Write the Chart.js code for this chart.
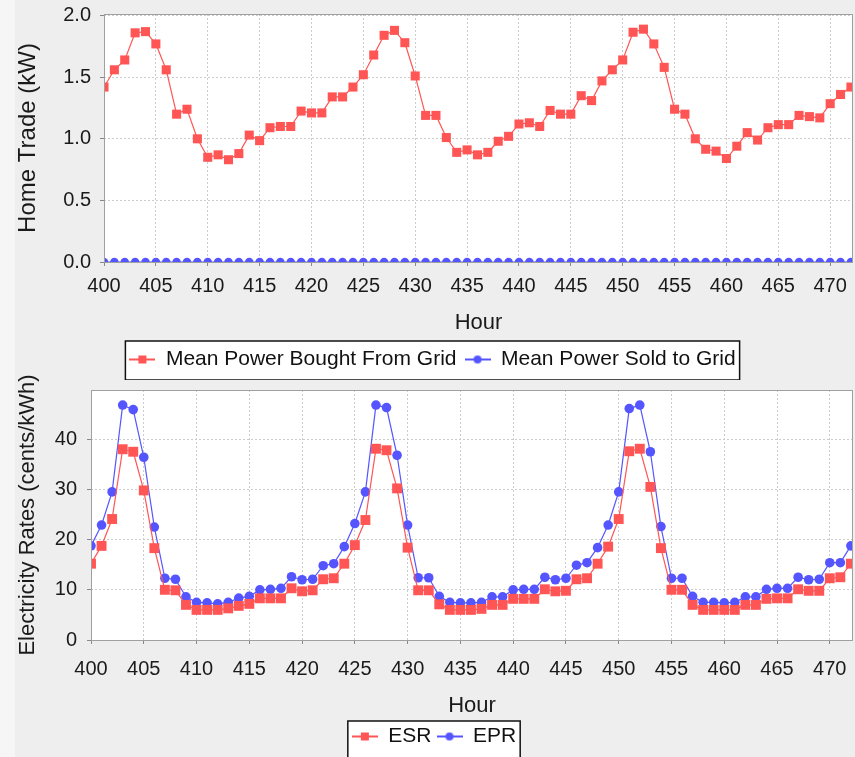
<!DOCTYPE html>
<html>
<head>
<meta charset="utf-8">
<script src="https://cdn.jsdelivr.net/npm/chart.js@4.4.1/dist/chart.umd.min.js"></script>
<style>
html, body { margin: 0; padding: 0; overflow: hidden; background: #eeeeee; }
body { width: 855px; height: 757px; position: relative; }
#edge { position: absolute; left: 0; top: 0; width: 15px; height: 757px; background: #f6f6f6; }
#topChart { position: absolute; left: 0; top: 0; }
#bottomChart { position: absolute; left: 0; top: 370px; }
</style>
</head>
<body>
<div id="edge"></div>
<canvas id="topChart" width="855" height="380"></canvas>
<canvas id="bottomChart" width="855" height="387"></canvas>
<script>
var hours = [400,401,402,403,404,405,406,407,408,409,
             410,411,412,413,414,415,416,417,418,419,
             420,421,422,423,424,425,426,427,428,429,
             430,431,432,433,434,435,436,437,438,439,
             440,441,442,443,444,445,446,447,448,449,
             450,451,452,453,454,455,456,457,458,459,
             460,461,462,463,464,465,466,467,468,469,
             470,471,472];

// top panel (kW)
var boughtFromGrid = [1.42,1.56,1.64,1.86,1.87,1.77,1.56,1.20,1.24,1.00,
                      0.85,0.87,0.83,0.88,1.03,0.985,1.09,1.10,1.10,1.225,
                      1.21,1.21,1.34,1.34,1.42,1.52,1.68,1.84,1.88,1.78,
                      1.51,1.19,1.19,1.01,0.89,0.91,0.87,0.89,0.98,1.02,
                      1.12,1.13,1.10,1.23,1.20,1.20,1.35,1.31,1.47,1.56,
                      1.64,1.865,1.89,1.77,1.58,1.24,1.20,1.00,0.915,0.90,
                      0.84,0.94,1.05,0.99,1.09,1.115,1.115,1.19,1.18,1.17,
                      1.285,1.36,1.42];
var soldToGrid = [0,0,0,0,0,0,0,0,0,0, 0,0,0,0,0,0,0,0,0,0,
                  0,0,0,0,0,0,0,0,0,0, 0,0,0,0,0,0,0,0,0,0,
                  0,0,0,0,0,0,0,0,0,0, 0,0,0,0,0,0,0,0,0,0,
                  0,0,0,0,0,0,0,0,0,0, 0,0,0];

// bottom panel (cents/kWh)
var esr = [15.2,18.75,24.1,38.0,37.5,29.8,18.3,10.0,9.9,7.0,
           6.0,6.0,6.0,6.3,6.8,7.2,8.3,8.3,8.3,10.3,
           9.7,9.9,12.1,12.3,15.2,18.9,23.9,38.1,37.8,30.2,
           18.4,9.9,9.9,7.1,6.0,6.0,6.0,6.2,7.0,7.0,
           8.2,8.2,8.2,10.1,9.7,9.8,12.1,12.3,15.2,18.6,
           24.1,37.6,38.1,30.5,18.3,10.0,10.0,7.0,6.0,6.0,
           6.0,6.0,7.0,7.0,8.2,8.3,8.3,10.1,9.8,9.8,
           12.3,12.5,15.2];
var epr = [18.75,22.9,29.5,46.8,45.9,36.4,22.5,12.3,12.1,8.6,
           7.5,7.4,7.2,7.5,8.35,8.7,10.0,10.1,10.3,12.6,
           12.0,12.1,14.8,15.2,18.6,23.2,29.5,46.8,46.3,36.8,
           22.9,12.4,12.4,8.7,7.5,7.4,7.4,7.5,8.6,8.6,
           10.0,10.1,10.1,12.5,12.0,12.3,14.9,15.4,18.4,22.9,
           29.5,46.1,46.8,37.5,22.6,12.3,12.3,8.7,7.5,7.5,
           7.4,7.5,8.6,8.6,10.1,10.3,10.3,12.5,12.0,12.1,
           15.4,15.4,18.75];

var RED = '#ff5555';
var BLUE = '#5555ff';
var FONT = 'Liberation Sans, Arial, sans-serif';

Chart.defaults.font.family = FONT;
Chart.defaults.color = '#1a1a1a';

function pts(ys) {
    var out = [];
    for (var i = 0; i < hours.length; i++) out.push({x: hours[i], y: ys[i]});
    return out;
}

// little "line + marker" icon for the legend
function legendIcon(color, shape) {
    var c = document.createElement('canvas');
    c.width = 26; c.height = 12;
    var g = c.getContext('2d');
    g.strokeStyle = color; g.lineWidth = 2;
    g.beginPath(); g.moveTo(0, 6); g.lineTo(26, 6); g.stroke();
    g.fillStyle = color;
    if (shape == 'rect') {
        g.fillRect(9, 2, 8, 8);
    } else {
        g.beginPath(); g.arc(13, 6, 4, 0, Math.PI * 2); g.fill();
    }
    return c;
}

var panelPlugin = {
    id: 'panel',
    beforeDraw: function (chart) {
        var ctx = chart.ctx, a = chart.chartArea;
        ctx.save();
        ctx.fillStyle = '#ffffff';
        ctx.fillRect(a.left, a.top, a.right - a.left, a.bottom - a.top);
        // legend frame
        var boxes = chart.legend.legendHitBoxes;
        if (boxes && boxes.length) {
            var l = boxes[0].left, r = boxes[0].left + boxes[0].width;
            for (var i = 1; i < boxes.length; i++) {
                l = Math.min(l, boxes[i].left);
                r = Math.max(r, boxes[i].left + boxes[i].width);
            }
            var t = chart.legend.top;
            ctx.fillStyle = '#ffffff';
            ctx.fillRect(l - 4, t, r - l + 8, 39);
            ctx.strokeStyle = '#111111';
            ctx.lineWidth = 1.5;
            ctx.strokeRect(l - 4, t, r - l + 8, 39);
        }
        ctx.restore();
    },
    afterDatasetsDraw: function (chart) {
        var ctx = chart.ctx, a = chart.chartArea;
        ctx.save();
        ctx.strokeStyle = '#a0a0a0';
        ctx.lineWidth = 1;
        ctx.strokeRect(a.left + 0.5, a.top + 0.5, a.right - a.left - 1, a.bottom - a.top);
        ctx.restore();
    }
};

function legendOpts(icons, pad) {
    return {
        position: 'bottom',
        labels: {
            usePointStyle: true,
            pointStyleWidth: 26,
            padding: pad,
            font: {size: 21},
            color: '#111',
            generateLabels: function (chart) {
                var items = Chart.defaults.plugins.legend.labels.generateLabels(chart);
                items.forEach(function (it, i) { it.pointStyle = icons[i]; });
                return items;
            }
        }
    };
}

function xAxis(height, tickPad, titlePad) {
    return {
        type: 'linear',
        min: 400,
        max: 472.2,
        afterFit: function (s) { s.height = height; s.paddingLeft = 0; s.paddingRight = 0; },
        ticks: {stepSize: 5, includeBounds: false, autoSkip: false, maxRotation: 0,
                font: {size: 20}, padding: tickPad,
                callback: function (v) { return v; }},
        grid: {color: '#cccccc', tickColor: '#888888', tickLength: 4},
        border: {display: false, dash: [2, 2]},
        title: {display: true, text: 'Hour', font: {size: 22}, padding: {top: 0, bottom: titlePad}}
    };
}

new Chart(document.getElementById('topChart'), {
    type: 'line',
    data: {
        datasets: [{
            label: 'Mean Power Bought From Grid',
            data: pts(boughtFromGrid),
            borderColor: RED, backgroundColor: RED, borderWidth: 1.2,
            pointStyle: 'rect', pointRadius: 6.4, pointBorderWidth: 0,
            tension: 0, clip: 0
        }, {
            label: 'Mean Power Sold to Grid',
            data: pts(soldToGrid),
            borderColor: BLUE, backgroundColor: BLUE, borderWidth: 1.2,
            pointStyle: 'circle', pointRadius: 4.2, pointBorderWidth: 0,
            tension: 0, clip: 0
        }]
    },
    options: {
        responsive: false,
        animation: false,
        layout: {autoPadding: false, padding: {top: 14, right: 2, left: 12, bottom: 0}},
        plugins: {
            legend: legendOpts([legendIcon(RED, 'rect'), legendIcon(BLUE, 'circle')], 8),
            tooltip: {enabled: false}
        },
        scales: {
            x: xAxis(79, 8, 5),
            y: {
                min: 0, max: 2.013,
                afterFit: function (s) { s.width = 92; s.paddingTop = 0; s.paddingBottom = 0; },
                ticks: {stepSize: 0.5, includeBounds: false, font: {size: 20}, padding: 9,
                        callback: function (v) { return v.toFixed(1); }},
                grid: {color: '#cccccc', tickColor: '#888888', tickLength: 4},
                border: {display: false, dash: [2, 2]},
                title: {display: true, text: 'Home Trade (kW)', font: {size: 24}, padding: {top: 2, bottom: 0}}
            }
        }
    },
    plugins: [panelPlugin]
});

new Chart(document.getElementById('bottomChart'), {
    type: 'line',
    data: {
        datasets: [{
            label: 'ESR',
            data: pts(esr),
            borderColor: RED, backgroundColor: RED, borderWidth: 1.2,
            pointStyle: 'rect', pointRadius: 7, pointBorderWidth: 0,
            tension: 0, clip: 0
        }, {
            label: 'EPR',
            data: pts(epr),
            borderColor: BLUE, backgroundColor: BLUE, borderWidth: 1.2,
            pointStyle: 'circle', pointRadius: 4.8, pointBorderWidth: 0,
            tension: 0, clip: 0
        }]
    },
    options: {
        responsive: false,
        animation: false,
        layout: {autoPadding: false, padding: {top: 20, right: 2, left: 15, bottom: 0}},
        plugins: {
            legend: legendOpts([legendIcon(RED, 'rect'), legendIcon(BLUE, 'circle')], 5),
            tooltip: {enabled: false}
        },
        scales: {
            x: xAxis(81, 13, 2),
            y: {
                min: 0, max: 49.8,
                afterFit: function (s) { s.width = 76; s.paddingTop = 0; s.paddingBottom = 0; },
                ticks: {stepSize: 10, includeBounds: false, font: {size: 20}, padding: 10},
                grid: {color: '#cccccc', tickColor: '#888888', tickLength: 4},
                border: {display: false, dash: [2, 2]},
                title: {display: true, text: 'Electricity Rates (cents/kWh)', font: {size: 22}, padding: {top: 0, bottom: 0}}
            }
        }
    },
    plugins: [panelPlugin]
});
</script>
</body>
</html>
